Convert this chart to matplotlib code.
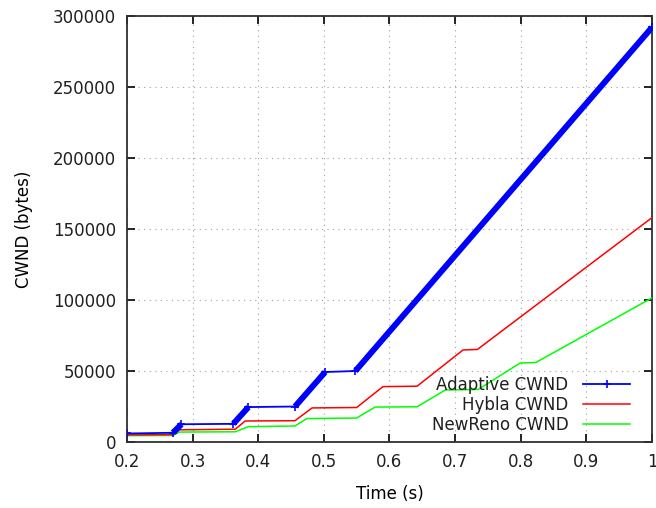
import matplotlib
matplotlib.use('Agg')
import matplotlib.pyplot as plt

# values
t_adaptive = [0.2, 0.27, 0.283, 0.362, 0.385, 0.456, 0.502, 0.548, 1.0]
cwnd_adaptive = [6000, 6500, 12500, 12800, 24600, 25000, 49300, 50000, 292000]

t_hybla = [0.2, 0.27, 0.28, 0.365, 0.38, 0.456, 0.482, 0.55, 0.59, 0.642, 0.712, 0.734, 1.0]
cwnd_hybla = [5000, 5200, 8600, 9000, 14800, 15000, 24000, 24300, 39000, 39300, 64800, 65200, 158000]

t_newreno = [0.2, 0.27, 0.28, 0.365, 0.385, 0.456, 0.474, 0.55, 0.578, 0.642, 0.685, 0.735, 0.799, 0.823, 1.0]
cwnd_newreno = [4500, 4600, 7000, 7200, 10800, 11300, 16500, 16900, 24600, 24800, 36600, 37000, 55600, 56000, 101500]

xticks = [0.2, 0.3, 0.4, 0.5, 0.6, 0.7, 0.8, 0.9, 1.0]
xticklabels = ['0.2', '0.3', '0.4', '0.5', '0.6', '0.7', '0.8', '0.9', '1']
yticks = [0, 50000, 100000, 150000, 200000, 250000, 300000]

plt.rcParams['font.family'] = 'DejaVu Sans'
plt.rcParams['font.size'] = 12
plt.rcParams['text.color'] = '#202020'
plt.rcParams['xtick.labelcolor'] = '#202020'
plt.rcParams['ytick.labelcolor'] = '#202020'

fig = plt.figure(figsize=(6.56, 5.08), dpi=100)
ax = fig.add_axes([0.1936, 0.1299, 0.8003, 0.8386])

ax.plot(t_adaptive, cwnd_adaptive, color='#0000ff', lw=1.3, marker='+',
        markersize=6, markeredgewidth=1.2, label='Adaptive CWND', zorder=5)
# the ramps are drawn with packed markers in the original, so they look thick
for i in (1, 3, 5, 7):
    ax.plot(t_adaptive[i:i + 2], cwnd_adaptive[i:i + 2], color='#0000ff',
            lw=4.3, solid_capstyle='butt', zorder=5)
ax.plot(t_hybla, cwnd_hybla, color='#ff0000', lw=1.1, label='Hybla CWND', zorder=4)
ax.plot(t_newreno, cwnd_newreno, color='#00ff00', lw=1.1, label='NewReno CWND', zorder=3)

ax.set_xlim(0.2, 1.0)
ax.set_ylim(0, 300000)
ax.set_xticks(xticks)
ax.set_xticklabels(xticklabels)
ax.set_yticks(yticks)
ax.set_yticklabels([str(v) for v in yticks])

ax.grid(True, color='#a0a0a0', linestyle=(0, (1, 4)), linewidth=0.8)
ax.tick_params(direction='in', length=6, width=1.2, top=True, right=True, pad=8)
for s in ax.spines.values():
    s.set_linewidth(1.3)
    s.set_color('#303030')

ax.set_xlabel('Time (s)', labelpad=10)
ax.set_ylabel('CWND (bytes)', labelpad=14)

ax.legend(loc='lower right', frameon=False, markerfirst=False, handlelength=2.8,
          labelspacing=0.1, borderaxespad=0, handletextpad=0.9,
          bbox_to_anchor=(0.971, 0.004))

fig.savefig('out.png', dpi=100)
